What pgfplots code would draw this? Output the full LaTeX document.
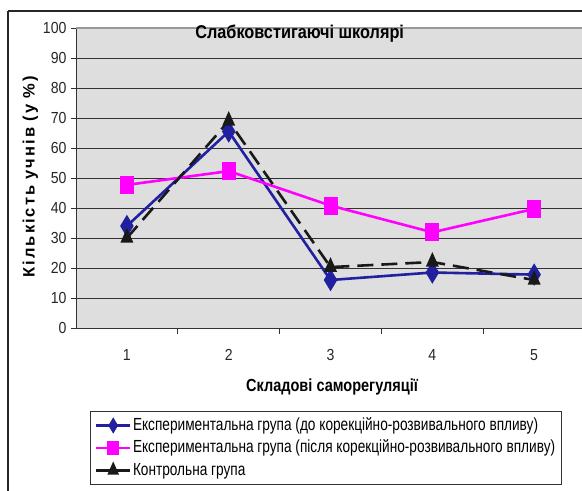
\documentclass[border=0pt]{standalone}
\usepackage{fontspec}
\setmainfont{Liberation Sans}[FakeStretch=0.88]
\newfontfamily\legfont{Liberation Sans}[FakeStretch=0.78]
\newfontfamily\xlabfont{Liberation Sans}[FakeStretch=0.83]
\newfontfamily\ylabfont{Liberation Sans}[LetterSpace=12]
\usepackage{pgfplots}
\pgfplotsset{compat=1.18}
\definecolor{navyb}{RGB}{32,32,160}
\definecolor{mag}{RGB}{255,0,255}
\definecolor{plotbg}{RGB}{222,222,222}
\definecolor{gridc}{RGB}{50,50,50}
\begin{document}
\begin{tikzpicture}[x=1bp,y=1bp]
\useasboundingbox (0,0) rectangle (582,-491);
\begin{axis}[
  at={(76bp,-328bp)}, anchor=south west,
  scale only axis, width=506bp, height=300bp,
  xmin=0.5, xmax=5.47, ymin=0, ymax=100,
  axis background/.style={fill=plotbg},
  axis line style={draw=none},
  xtick={1,2,3,4,5},
  major x tick style={draw=none},
  minor xtick={1.5,2.5,3.5,4.5},
  minor x tick style={draw=gridc, line width=0.8bp},
  minor tick length=6bp,
  xtick pos=bottom, ytick pos=left,
  tick align=outside,
  ytick={0,10,...,100},
  major tick length=5bp,
  y tick style={draw=gridc, line width=0.8bp},
  ymajorgrids, major grid style={draw=gridc, line width=0.9bp},
  /pgf/number format/assume math mode=true,
  tick label style={font=\fontsize{16bp}{18bp}\selectfont, text=black!85},
  xticklabel style={yshift=-13bp},
  yticklabel style={xshift=-1bp},
  title={\bfseries Слабковстигаючі школярі},
  title style={at={(axis description cs:0.442,0.962)}, anchor=center, font=\fontsize{18.5bp}{20bp}\selectfont},
  ylabel={\bfseries Кількість учнів (у \%)},
  ylabel style={at={(axis description cs:-0.09,0.505)}, anchor=center, rotate=0, font=\ylabfont\fontsize{16.5bp}{18bp}\selectfont},
  xlabel={\bfseries Складові саморегуляції},
  xlabel style={at={(axis description cs:0.506,-0.197)}, anchor=center, font=\xlabfont\fontsize{17.5bp}{19bp}\selectfont},
  legend style={at={(axis description cs:0.0277,-0.277)}, anchor=north west,
    draw=black!80, fill=white, line width=0.8bp, inner sep=4.5bp,
    font=\legfont\fontsize{17.5bp}{19bp}\selectfont, row sep=3.5bp,
    nodes={text height=12.5bp, text depth=3.5bp, inner sep=1.5bp},
    /tikz/every even column/.append style={column sep=0bp}},
  legend cell align=left,
  legend image code/.code={
    \draw[#1, solid] (0bp,0bp) -- (34bp,0bp);
    \draw[#1, solid, mark size=4.5bp] plot coordinates {(17bp,0bp)};
  },
]
\addplot[navyb, line width=2.6bp, mark=diamond*, mark size=7bp, mark options={solid, yscale=1.25}]
  coordinates {(1,34) (2,65.5) (3,16) (4,18.5) (5,17.8)};
\addlegendentry{Експериментальна група (до корекційно-розвивального впливу)}
\addplot[mag, line width=2.6bp, mark=square*, mark size=5.7bp, mark options={solid, yscale=1.35}]
  coordinates {(1,47.7) (2,52.3) (3,40.8) (4,31.9) (5,39.7)};
\addlegendentry{Експериментальна група (після корекційно-розвивального впливу)}
\addplot[black!90, line width=2.6bp, dash pattern=on 16bp off 8bp, mark=triangle*, mark size=5.2bp, mark options={solid, yscale=1.3}]
  coordinates {(1,30) (2,69) (3,20.3) (4,22) (5,16)};
\addlegendentry{Контрольна група}
\draw[gridc, line width=0.9bp] (rel axis cs:0,0) -- (rel axis cs:0,1);
\draw[gridc, line width=0.9bp] (rel axis cs:0,0) -- (rel axis cs:1,0);
\draw[black!40, line width=1.5bp] (rel axis cs:0,1) -- (rel axis cs:1,1);
\end{axis}
\draw[black!85, line width=1.3bp] (8,-11) -- (582,-11);
\draw[black!85, line width=1.3bp] (8,-11) -- (8,-491);
\end{tikzpicture}
\end{document}
